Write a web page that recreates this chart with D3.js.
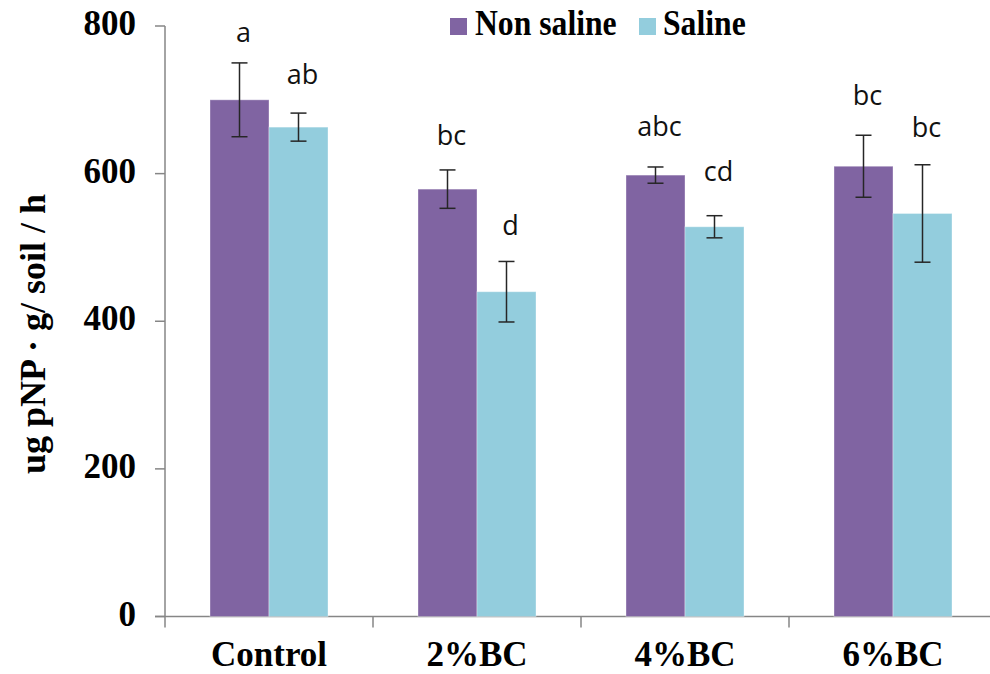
<!DOCTYPE html>
<html>
<head>
<meta charset="utf-8">
<script src="https://cdn.jsdelivr.net/npm/d3@7/dist/d3.min.js"></script>
<style>
  html, body { margin: 0; padding: 0; background: #fff; }
  svg { display: block; }
</style>
</head>
<body>
<svg id="chart" width="990" height="674"></svg>
<script>
// ---- data ----
const categories = ["Control", "2%BC", "4%BC", "6%BC"];
const seriesNames = ["Non saline", "Saline"];
const nonSaline = [700, 579, 598, 610];
const saline = [663, 440, 528, 546];
const errNonSaline = [50, 26, 11, 42];
const errSaline = [19, 41, 15, 66];
const lettersNonSaline = ["a", "bc", "abc", "bc"];
const lettersSaline = ["ab", "d", "cd", "bc"];
const letterAtNonSaline = [779, 639, 651, 693];
const letterAtSaline = [722, 517, 590, 649];
const yTicks = [0, 200, 400, 600, 800];
const yTitle = "ug pNP \u00B7 g/ soil / h";

const colors = ["#8064A2", "#93CDDD"];
const axisColor = "#868686";
const serif = "'Liberation Serif', 'Times New Roman', serif";

const svg = d3.select("#chart");

const y = d3.scaleLinear().domain([0, 800]).range([616.5, 26]);
const x = d3.scaleBand().domain(categories).range([165, 997]).paddingInner(0).paddingOuter(0);
const barW = 59;
const xs = d3.scaleBand().domain(seriesNames).range([0, barW * 2]);

const rows = categories.map((c, i) => ({
  cat: c,
  vals: [
    { s: seriesNames[0], v: nonSaline[i], e: errNonSaline[i], l: lettersNonSaline[i], la: letterAtNonSaline[i], k: 0 },
    { s: seriesNames[1], v: saline[i], e: errSaline[i], l: lettersSaline[i], la: letterAtSaline[i], k: 1 }
  ]
}));

const groupX = c => x(c) + (x.bandwidth() - barW * 2) / 2;

// axes lines
svg.append("line").attr("x1", 165).attr("x2", 165).attr("y1", y(800)).attr("y2", y(0))
  .attr("stroke", axisColor).attr("stroke-width", 1.5);
svg.append("line").attr("x1", 155).attr("x2", 990).attr("y1", y(0)).attr("y2", y(0))
  .attr("stroke", axisColor).attr("stroke-width", 1.5);

// y ticks
svg.selectAll(".ytick").data(yTicks).enter().append("line")
  .attr("x1", 155).attr("x2", 165).attr("y1", d => y(d)).attr("y2", d => y(d))
  .attr("stroke", axisColor).attr("stroke-width", 1.5);
svg.selectAll(".ylab").data(yTicks).enter().append("text")
  .attr("x", 136).attr("y", d => y(d)).attr("dy", "0.26em")
  .attr("text-anchor", "end")
  .attr("font-family", serif).attr("font-weight", "bold").attr("font-size", 35)
  .attr("fill", "#000").text(d => d);

// x ticks at band boundaries
svg.selectAll(".xtick").data(categories).enter().append("line")
  .attr("x1", d => x(d)).attr("x2", d => x(d)).attr("y1", y(0)).attr("y2", y(0) + 11)
  .attr("stroke", axisColor).attr("stroke-width", 1.5);

// x labels
svg.selectAll(".xlab").data(categories).enter().append("text")
  .attr("x", d => x(d) + x.bandwidth() / 2).attr("y", 666)
  .attr("text-anchor", "middle")
  .attr("font-family", serif).attr("font-weight", "bold").attr("font-size", 35)
  .attr("fill", "#000").text(d => d);

// bars
const g = svg.selectAll(".grp").data(rows).enter().append("g")
  .attr("transform", d => `translate(${groupX(d.cat)},0)`);

g.selectAll("rect").data(d => d.vals).enter().append("rect")
  .attr("x", d => xs(d.s)).attr("width", xs.bandwidth())
  .attr("y", d => y(d.v)).attr("height", d => y(0) - y(d.v))
  .attr("fill", d => colors[d.k])
  .attr("stroke", "#ffffff").attr("stroke-opacity", 0.35).attr("stroke-width", 1);

// error bars
const eb = g.selectAll(".eb").data(d => d.vals).enter().append("g");
eb.append("line")
  .attr("x1", d => xs(d.s) + xs.bandwidth() / 2).attr("x2", d => xs(d.s) + xs.bandwidth() / 2)
  .attr("y1", d => y(d.v + d.e)).attr("y2", d => y(d.v - d.e))
  .attr("stroke", "#262626").attr("stroke-width", 1.5);
eb.selectAll(".cap").data(d => [{ d, v: d.v + d.e }, { d, v: d.v - d.e }]).enter().append("line")
  .attr("x1", c => xs(c.d.s) + xs.bandwidth() / 2 - 8).attr("x2", c => xs(c.d.s) + xs.bandwidth() / 2 + 8)
  .attr("y1", c => y(c.v)).attr("y2", c => y(c.v))
  .attr("stroke", "#262626").attr("stroke-width", 1.5);

// letters
g.selectAll(".let").data(d => d.vals).enter().append("text")
  .attr("x", d => xs(d.s) + xs.bandwidth() / 2 + 4).attr("y", d => y(d.la))
  .attr("text-anchor", "middle")
  .attr("font-family", "'Open Sans', 'Noto Sans', sans-serif").attr("font-size", 27)
  .attr("fill", "#111").text(d => d.l);

// legend
const legendItems = [
  { name: seriesNames[0], sx: 450, tx: 475, c: colors[0] },
  { name: seriesNames[1], sx: 639, tx: 663, c: colors[1] }
];
const lg = svg.selectAll(".lg").data(legendItems).enter().append("g");
lg.append("rect").attr("x", d => d.sx).attr("y", 18).attr("width", 17).attr("height", 17).attr("fill", d => d.c);
lg.append("text")
  .attr("transform", d => `translate(${d.tx},35) scale(0.88,1)`)
  .attr("font-family", serif).attr("font-weight", "bold").attr("font-size", 36)
  .attr("fill", "#000").text(d => d.name);

// y title
svg.append("text")
  .attr("transform", "translate(45,334) rotate(-90)")
  .attr("text-anchor", "middle")
  .attr("font-family", serif).attr("font-weight", "bold").attr("font-size", 36)
  .attr("fill", "#000").text(yTitle);
</script>
</body>
</html>
